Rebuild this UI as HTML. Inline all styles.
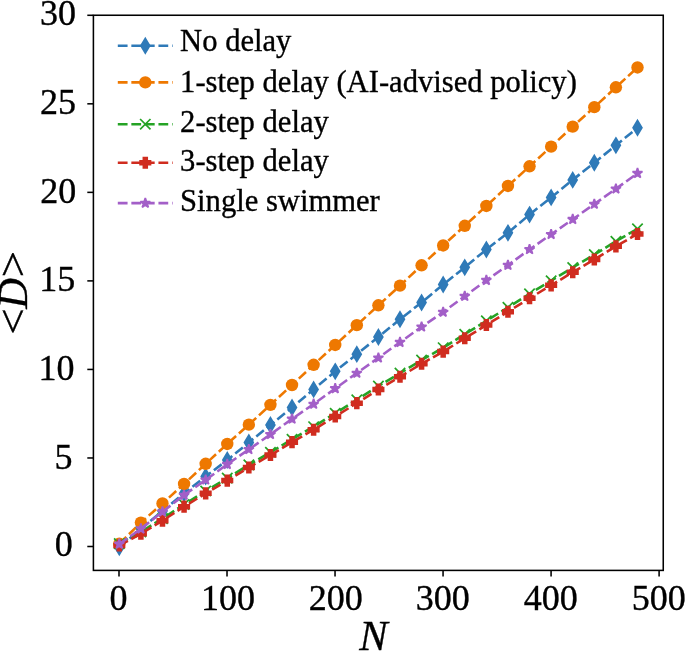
<!DOCTYPE html>
<html><head><meta charset="utf-8"><title>D vs N</title><style>html,body{margin:0;padding:0;background:#fff}body{width:685px;height:651px;overflow:hidden}</style></head><body><svg width="685" height="651" viewBox="0 0 685 651" style="display:block;will-change:transform">
<rect width="685" height="651" fill="#fff"/>
<clipPath id="c"><rect x="93.4" y="15.25" width="569.85" height="555.15"/></clipPath>
<g clip-path="url(#c)">
<polyline points="119.30,547.21 140.89,528.79 162.48,511.08 184.07,493.37 205.67,476.54 227.26,460.07 248.85,442.53 270.44,425.00 292.03,407.47 313.62,389.40 335.22,371.34 356.81,354.16 378.40,336.98 399.99,319.27 421.58,302.44 443.17,284.55 464.76,267.37 486.36,249.48 507.95,232.84 529.54,214.59 551.13,197.41 572.72,179.88 594.31,162.70 615.90,145.34 637.50,127.81" fill="none" stroke="#2f7ab8" stroke-width="2.6" stroke-dasharray="9.77 3.78"/>
<path d="M119.30 539.91L123.70 547.21L119.30 554.51L114.90 547.21Z" fill="#2f7ab8" stroke="#2f7ab8" stroke-width="1.7" stroke-linejoin="miter" stroke-miterlimit="10"/>
<path d="M140.89 521.49L145.29 528.79L140.89 536.09L136.49 528.79Z" fill="#2f7ab8" stroke="#2f7ab8" stroke-width="1.7" stroke-linejoin="miter" stroke-miterlimit="10"/>
<path d="M162.48 503.78L166.88 511.08L162.48 518.38L158.08 511.08Z" fill="#2f7ab8" stroke="#2f7ab8" stroke-width="1.7" stroke-linejoin="miter" stroke-miterlimit="10"/>
<path d="M184.07 486.07L188.47 493.37L184.07 500.67L179.67 493.37Z" fill="#2f7ab8" stroke="#2f7ab8" stroke-width="1.7" stroke-linejoin="miter" stroke-miterlimit="10"/>
<path d="M205.67 469.24L210.07 476.54L205.67 483.84L201.27 476.54Z" fill="#2f7ab8" stroke="#2f7ab8" stroke-width="1.7" stroke-linejoin="miter" stroke-miterlimit="10"/>
<path d="M227.26 452.77L231.66 460.07L227.26 467.37L222.86 460.07Z" fill="#2f7ab8" stroke="#2f7ab8" stroke-width="1.7" stroke-linejoin="miter" stroke-miterlimit="10"/>
<path d="M248.85 435.23L253.25 442.53L248.85 449.83L244.45 442.53Z" fill="#2f7ab8" stroke="#2f7ab8" stroke-width="1.7" stroke-linejoin="miter" stroke-miterlimit="10"/>
<path d="M270.44 417.70L274.84 425.00L270.44 432.30L266.04 425.00Z" fill="#2f7ab8" stroke="#2f7ab8" stroke-width="1.7" stroke-linejoin="miter" stroke-miterlimit="10"/>
<path d="M292.03 400.17L296.43 407.47L292.03 414.77L287.63 407.47Z" fill="#2f7ab8" stroke="#2f7ab8" stroke-width="1.7" stroke-linejoin="miter" stroke-miterlimit="10"/>
<path d="M313.62 382.10L318.02 389.40L313.62 396.70L309.22 389.40Z" fill="#2f7ab8" stroke="#2f7ab8" stroke-width="1.7" stroke-linejoin="miter" stroke-miterlimit="10"/>
<path d="M335.22 364.04L339.62 371.34L335.22 378.64L330.82 371.34Z" fill="#2f7ab8" stroke="#2f7ab8" stroke-width="1.7" stroke-linejoin="miter" stroke-miterlimit="10"/>
<path d="M356.81 346.86L361.21 354.16L356.81 361.46L352.41 354.16Z" fill="#2f7ab8" stroke="#2f7ab8" stroke-width="1.7" stroke-linejoin="miter" stroke-miterlimit="10"/>
<path d="M378.40 329.68L382.80 336.98L378.40 344.28L374.00 336.98Z" fill="#2f7ab8" stroke="#2f7ab8" stroke-width="1.7" stroke-linejoin="miter" stroke-miterlimit="10"/>
<path d="M399.99 311.97L404.39 319.27L399.99 326.57L395.59 319.27Z" fill="#2f7ab8" stroke="#2f7ab8" stroke-width="1.7" stroke-linejoin="miter" stroke-miterlimit="10"/>
<path d="M421.58 295.14L425.98 302.44L421.58 309.74L417.18 302.44Z" fill="#2f7ab8" stroke="#2f7ab8" stroke-width="1.7" stroke-linejoin="miter" stroke-miterlimit="10"/>
<path d="M443.17 277.25L447.57 284.55L443.17 291.85L438.77 284.55Z" fill="#2f7ab8" stroke="#2f7ab8" stroke-width="1.7" stroke-linejoin="miter" stroke-miterlimit="10"/>
<path d="M464.76 260.07L469.16 267.37L464.76 274.67L460.36 267.37Z" fill="#2f7ab8" stroke="#2f7ab8" stroke-width="1.7" stroke-linejoin="miter" stroke-miterlimit="10"/>
<path d="M486.36 242.18L490.76 249.48L486.36 256.78L481.96 249.48Z" fill="#2f7ab8" stroke="#2f7ab8" stroke-width="1.7" stroke-linejoin="miter" stroke-miterlimit="10"/>
<path d="M507.95 225.54L512.35 232.84L507.95 240.14L503.55 232.84Z" fill="#2f7ab8" stroke="#2f7ab8" stroke-width="1.7" stroke-linejoin="miter" stroke-miterlimit="10"/>
<path d="M529.54 207.29L533.94 214.59L529.54 221.89L525.14 214.59Z" fill="#2f7ab8" stroke="#2f7ab8" stroke-width="1.7" stroke-linejoin="miter" stroke-miterlimit="10"/>
<path d="M551.13 190.11L555.53 197.41L551.13 204.71L546.73 197.41Z" fill="#2f7ab8" stroke="#2f7ab8" stroke-width="1.7" stroke-linejoin="miter" stroke-miterlimit="10"/>
<path d="M572.72 172.58L577.12 179.88L572.72 187.18L568.32 179.88Z" fill="#2f7ab8" stroke="#2f7ab8" stroke-width="1.7" stroke-linejoin="miter" stroke-miterlimit="10"/>
<path d="M594.31 155.40L598.71 162.70L594.31 170.00L589.91 162.70Z" fill="#2f7ab8" stroke="#2f7ab8" stroke-width="1.7" stroke-linejoin="miter" stroke-miterlimit="10"/>
<path d="M615.90 138.04L620.30 145.34L615.90 152.64L611.50 145.34Z" fill="#2f7ab8" stroke="#2f7ab8" stroke-width="1.7" stroke-linejoin="miter" stroke-miterlimit="10"/>
<path d="M637.50 120.51L641.90 127.81L637.50 135.11L633.10 127.81Z" fill="#2f7ab8" stroke="#2f7ab8" stroke-width="1.7" stroke-linejoin="miter" stroke-miterlimit="10"/>
<polyline points="119.30,543.67 140.89,522.60 162.48,503.47 184.07,483.99 205.67,463.80 227.26,443.97 248.85,424.67 270.44,404.83 292.03,385.00 313.62,364.81 335.22,344.98 356.81,325.15 378.40,305.31 399.99,285.66 421.58,265.29 443.17,245.46 464.76,225.80 486.36,205.97 507.95,185.96 529.54,166.30 551.13,146.64 572.72,126.63 594.31,107.15 615.90,87.32 637.50,67.49" fill="none" stroke="#ee7800" stroke-width="2.6" stroke-dasharray="9.77 3.78"/>
<circle cx="119.30" cy="543.67" r="6.2" fill="#ee7800"/>
<circle cx="140.89" cy="522.60" r="6.2" fill="#ee7800"/>
<circle cx="162.48" cy="503.47" r="6.2" fill="#ee7800"/>
<circle cx="184.07" cy="483.99" r="6.2" fill="#ee7800"/>
<circle cx="205.67" cy="463.80" r="6.2" fill="#ee7800"/>
<circle cx="227.26" cy="443.97" r="6.2" fill="#ee7800"/>
<circle cx="248.85" cy="424.67" r="6.2" fill="#ee7800"/>
<circle cx="270.44" cy="404.83" r="6.2" fill="#ee7800"/>
<circle cx="292.03" cy="385.00" r="6.2" fill="#ee7800"/>
<circle cx="313.62" cy="364.81" r="6.2" fill="#ee7800"/>
<circle cx="335.22" cy="344.98" r="6.2" fill="#ee7800"/>
<circle cx="356.81" cy="325.15" r="6.2" fill="#ee7800"/>
<circle cx="378.40" cy="305.31" r="6.2" fill="#ee7800"/>
<circle cx="399.99" cy="285.66" r="6.2" fill="#ee7800"/>
<circle cx="421.58" cy="265.29" r="6.2" fill="#ee7800"/>
<circle cx="443.17" cy="245.46" r="6.2" fill="#ee7800"/>
<circle cx="464.76" cy="225.80" r="6.2" fill="#ee7800"/>
<circle cx="486.36" cy="205.97" r="6.2" fill="#ee7800"/>
<circle cx="507.95" cy="185.96" r="6.2" fill="#ee7800"/>
<circle cx="529.54" cy="166.30" r="6.2" fill="#ee7800"/>
<circle cx="551.13" cy="146.64" r="6.2" fill="#ee7800"/>
<circle cx="572.72" cy="126.63" r="6.2" fill="#ee7800"/>
<circle cx="594.31" cy="107.15" r="6.2" fill="#ee7800"/>
<circle cx="615.90" cy="87.32" r="6.2" fill="#ee7800"/>
<circle cx="637.50" cy="67.49" r="6.2" fill="#ee7800"/>
<polyline points="119.30,543.67 140.89,531.83 162.48,518.58 184.07,504.44 205.67,491.01 227.26,478.11 248.85,464.86 270.44,452.31 292.03,439.24 313.62,426.69 335.22,413.26 356.81,399.83 378.40,386.05 399.99,373.15 421.58,360.07 443.17,347.71 464.76,334.28 486.36,320.85 507.95,307.42 529.54,293.81 551.13,280.73 572.72,267.48 594.31,254.58 615.90,241.33 637.50,228.78" fill="none" stroke="#25a325" stroke-width="2.6" stroke-dasharray="9.77 3.78"/>
<path d="M114.10 538.47L124.50 548.87M114.10 548.87L124.50 538.47" stroke="#25a325" stroke-width="1.7" fill="none"/>
<path d="M135.69 526.63L146.09 537.03M135.69 537.03L146.09 526.63" stroke="#25a325" stroke-width="1.7" fill="none"/>
<path d="M157.28 513.38L167.68 523.78M157.28 523.78L167.68 513.38" stroke="#25a325" stroke-width="1.7" fill="none"/>
<path d="M178.87 499.24L189.27 509.64M178.87 509.64L189.27 499.24" stroke="#25a325" stroke-width="1.7" fill="none"/>
<path d="M200.47 485.81L210.87 496.21M200.47 496.21L210.87 485.81" stroke="#25a325" stroke-width="1.7" fill="none"/>
<path d="M222.06 472.91L232.46 483.31M222.06 483.31L232.46 472.91" stroke="#25a325" stroke-width="1.7" fill="none"/>
<path d="M243.65 459.66L254.05 470.06M243.65 470.06L254.05 459.66" stroke="#25a325" stroke-width="1.7" fill="none"/>
<path d="M265.24 447.11L275.64 457.51M265.24 457.51L275.64 447.11" stroke="#25a325" stroke-width="1.7" fill="none"/>
<path d="M286.83 434.04L297.23 444.44M286.83 444.44L297.23 434.04" stroke="#25a325" stroke-width="1.7" fill="none"/>
<path d="M308.42 421.49L318.82 431.89M308.42 431.89L318.82 421.49" stroke="#25a325" stroke-width="1.7" fill="none"/>
<path d="M330.02 408.06L340.42 418.46M330.02 418.46L340.42 408.06" stroke="#25a325" stroke-width="1.7" fill="none"/>
<path d="M351.61 394.63L362.01 405.03M351.61 405.03L362.01 394.63" stroke="#25a325" stroke-width="1.7" fill="none"/>
<path d="M373.20 380.85L383.60 391.25M373.20 391.25L383.60 380.85" stroke="#25a325" stroke-width="1.7" fill="none"/>
<path d="M394.79 367.95L405.19 378.35M394.79 378.35L405.19 367.95" stroke="#25a325" stroke-width="1.7" fill="none"/>
<path d="M416.38 354.87L426.78 365.27M416.38 365.27L426.78 354.87" stroke="#25a325" stroke-width="1.7" fill="none"/>
<path d="M437.97 342.51L448.37 352.91M437.97 352.91L448.37 342.51" stroke="#25a325" stroke-width="1.7" fill="none"/>
<path d="M459.56 329.08L469.96 339.48M459.56 339.48L469.96 329.08" stroke="#25a325" stroke-width="1.7" fill="none"/>
<path d="M481.16 315.65L491.56 326.05M481.16 326.05L491.56 315.65" stroke="#25a325" stroke-width="1.7" fill="none"/>
<path d="M502.75 302.22L513.15 312.62M502.75 312.62L513.15 302.22" stroke="#25a325" stroke-width="1.7" fill="none"/>
<path d="M524.34 288.61L534.74 299.01M524.34 299.01L534.74 288.61" stroke="#25a325" stroke-width="1.7" fill="none"/>
<path d="M545.93 275.53L556.33 285.93M545.93 285.93L556.33 275.53" stroke="#25a325" stroke-width="1.7" fill="none"/>
<path d="M567.52 262.28L577.92 272.68M567.52 272.68L577.92 262.28" stroke="#25a325" stroke-width="1.7" fill="none"/>
<path d="M589.11 249.38L599.51 259.78M589.11 259.78L599.51 249.38" stroke="#25a325" stroke-width="1.7" fill="none"/>
<path d="M610.70 236.13L621.10 246.53M610.70 246.53L621.10 236.13" stroke="#25a325" stroke-width="1.7" fill="none"/>
<path d="M632.30 223.58L642.70 233.98M632.30 233.98L642.70 223.58" stroke="#25a325" stroke-width="1.7" fill="none"/>
<polyline points="119.30,545.44 140.89,533.74 162.48,520.63 184.07,506.63 205.67,493.35 227.26,480.59 248.85,467.48 270.44,455.07 292.03,442.14 313.62,429.74 335.22,416.45 356.81,403.16 378.40,389.52 399.99,376.76 421.58,363.82 443.17,351.60 464.76,338.31 486.36,325.02 507.95,311.73 529.54,298.27 551.13,285.33 572.72,272.22 594.31,259.46 615.90,246.35 637.50,233.95" fill="none" stroke="#d02c1f" stroke-width="2.6" stroke-dasharray="9.77 3.78"/>
<path d="M116.55 539.39L122.05 539.39L122.05 542.69L125.35 542.69L125.35 548.19L122.05 548.19L122.05 551.49L116.55 551.49L116.55 548.19L113.25 548.19L113.25 542.69L116.55 542.69Z" fill="#d02c1f"/>
<path d="M138.14 527.69L143.64 527.69L143.64 530.99L146.94 530.99L146.94 536.49L143.64 536.49L143.64 539.79L138.14 539.79L138.14 536.49L134.84 536.49L134.84 530.99L138.14 530.99Z" fill="#d02c1f"/>
<path d="M159.73 514.58L165.23 514.58L165.23 517.88L168.53 517.88L168.53 523.38L165.23 523.38L165.23 526.68L159.73 526.68L159.73 523.38L156.43 523.38L156.43 517.88L159.73 517.88Z" fill="#d02c1f"/>
<path d="M181.32 500.58L186.82 500.58L186.82 503.88L190.12 503.88L190.12 509.38L186.82 509.38L186.82 512.68L181.32 512.68L181.32 509.38L178.02 509.38L178.02 503.88L181.32 503.88Z" fill="#d02c1f"/>
<path d="M202.92 487.30L208.42 487.30L208.42 490.60L211.72 490.60L211.72 496.10L208.42 496.10L208.42 499.40L202.92 499.40L202.92 496.10L199.62 496.10L199.62 490.60L202.92 490.60Z" fill="#d02c1f"/>
<path d="M224.51 474.54L230.01 474.54L230.01 477.84L233.31 477.84L233.31 483.34L230.01 483.34L230.01 486.64L224.51 486.64L224.51 483.34L221.21 483.34L221.21 477.84L224.51 477.84Z" fill="#d02c1f"/>
<path d="M246.10 461.43L251.60 461.43L251.60 464.73L254.90 464.73L254.90 470.23L251.60 470.23L251.60 473.53L246.10 473.53L246.10 470.23L242.80 470.23L242.80 464.73L246.10 464.73Z" fill="#d02c1f"/>
<path d="M267.69 449.02L273.19 449.02L273.19 452.32L276.49 452.32L276.49 457.82L273.19 457.82L273.19 461.12L267.69 461.12L267.69 457.82L264.39 457.82L264.39 452.32L267.69 452.32Z" fill="#d02c1f"/>
<path d="M289.28 436.09L294.78 436.09L294.78 439.39L298.08 439.39L298.08 444.89L294.78 444.89L294.78 448.19L289.28 448.19L289.28 444.89L285.98 444.89L285.98 439.39L289.28 439.39Z" fill="#d02c1f"/>
<path d="M310.87 423.69L316.37 423.69L316.37 426.99L319.67 426.99L319.67 432.49L316.37 432.49L316.37 435.79L310.87 435.79L310.87 432.49L307.57 432.49L307.57 426.99L310.87 426.99Z" fill="#d02c1f"/>
<path d="M332.47 410.40L337.97 410.40L337.97 413.70L341.27 413.70L341.27 419.20L337.97 419.20L337.97 422.50L332.47 422.50L332.47 419.20L329.17 419.20L329.17 413.70L332.47 413.70Z" fill="#d02c1f"/>
<path d="M354.06 397.11L359.56 397.11L359.56 400.41L362.86 400.41L362.86 405.91L359.56 405.91L359.56 409.21L354.06 409.21L354.06 405.91L350.76 405.91L350.76 400.41L354.06 400.41Z" fill="#d02c1f"/>
<path d="M375.65 383.47L381.15 383.47L381.15 386.77L384.45 386.77L384.45 392.27L381.15 392.27L381.15 395.57L375.65 395.57L375.65 392.27L372.35 392.27L372.35 386.77L375.65 386.77Z" fill="#d02c1f"/>
<path d="M397.24 370.71L402.74 370.71L402.74 374.01L406.04 374.01L406.04 379.51L402.74 379.51L402.74 382.81L397.24 382.81L397.24 379.51L393.94 379.51L393.94 374.01L397.24 374.01Z" fill="#d02c1f"/>
<path d="M418.83 357.77L424.33 357.77L424.33 361.07L427.63 361.07L427.63 366.57L424.33 366.57L424.33 369.87L418.83 369.87L418.83 366.57L415.53 366.57L415.53 361.07L418.83 361.07Z" fill="#d02c1f"/>
<path d="M440.42 345.55L445.92 345.55L445.92 348.85L449.22 348.85L449.22 354.35L445.92 354.35L445.92 357.65L440.42 357.65L440.42 354.35L437.12 354.35L437.12 348.85L440.42 348.85Z" fill="#d02c1f"/>
<path d="M462.01 332.26L467.51 332.26L467.51 335.56L470.81 335.56L470.81 341.06L467.51 341.06L467.51 344.36L462.01 344.36L462.01 341.06L458.71 341.06L458.71 335.56L462.01 335.56Z" fill="#d02c1f"/>
<path d="M483.61 318.97L489.11 318.97L489.11 322.27L492.41 322.27L492.41 327.77L489.11 327.77L489.11 331.07L483.61 331.07L483.61 327.77L480.31 327.77L480.31 322.27L483.61 322.27Z" fill="#d02c1f"/>
<path d="M505.20 305.68L510.70 305.68L510.70 308.98L514.00 308.98L514.00 314.48L510.70 314.48L510.70 317.78L505.20 317.78L505.20 314.48L501.90 314.48L501.90 308.98L505.20 308.98Z" fill="#d02c1f"/>
<path d="M526.79 292.22L532.29 292.22L532.29 295.52L535.59 295.52L535.59 301.02L532.29 301.02L532.29 304.32L526.79 304.32L526.79 301.02L523.49 301.02L523.49 295.52L526.79 295.52Z" fill="#d02c1f"/>
<path d="M548.38 279.28L553.88 279.28L553.88 282.58L557.18 282.58L557.18 288.08L553.88 288.08L553.88 291.38L548.38 291.38L548.38 288.08L545.08 288.08L545.08 282.58L548.38 282.58Z" fill="#d02c1f"/>
<path d="M569.97 266.17L575.47 266.17L575.47 269.47L578.77 269.47L578.77 274.97L575.47 274.97L575.47 278.27L569.97 278.27L569.97 274.97L566.67 274.97L566.67 269.47L569.97 269.47Z" fill="#d02c1f"/>
<path d="M591.56 253.41L597.06 253.41L597.06 256.71L600.36 256.71L600.36 262.21L597.06 262.21L597.06 265.51L591.56 265.51L591.56 262.21L588.26 262.21L588.26 256.71L591.56 256.71Z" fill="#d02c1f"/>
<path d="M613.15 240.30L618.65 240.30L618.65 243.60L621.95 243.60L621.95 249.10L618.65 249.10L618.65 252.40L613.15 252.40L613.15 249.10L609.85 249.10L609.85 243.60L613.15 243.60Z" fill="#d02c1f"/>
<path d="M634.75 227.90L640.25 227.90L640.25 231.20L643.55 231.20L643.55 236.70L640.25 236.70L640.25 240.00L634.75 240.00L634.75 236.70L631.45 236.70L631.45 231.20L634.75 231.20Z" fill="#d02c1f"/>
<polyline points="119.30,544.02 140.89,528.79 162.48,511.79 184.07,495.14 205.67,479.90 227.26,464.31 248.85,449.43 270.44,434.38 292.03,418.97 313.62,404.08 335.22,388.50 356.81,373.09 378.40,357.85 399.99,342.26 421.58,326.85 443.17,312.15 464.76,296.21 486.36,280.27 507.95,265.21 529.54,249.44 551.13,234.39 572.72,219.33 594.31,204.09 615.90,188.86 637.50,173.27" fill="none" stroke="#a35fc8" stroke-width="2.6" stroke-dasharray="9.77 3.78"/>
<path d="M119.30 538.82L120.47 542.42L124.25 542.42L121.19 544.64L122.36 548.23L119.30 546.01L116.24 548.23L117.41 544.64L114.35 542.42L118.13 542.42Z" fill="#a35fc8" stroke="#a35fc8" stroke-width="1.7" stroke-linejoin="bevel"/>
<path d="M140.89 523.59L142.06 527.18L145.84 527.18L142.78 529.40L143.95 533.00L140.89 530.78L137.84 533.00L139.00 529.40L135.95 527.18L139.72 527.18Z" fill="#a35fc8" stroke="#a35fc8" stroke-width="1.7" stroke-linejoin="bevel"/>
<path d="M162.48 506.59L163.65 510.18L167.43 510.18L164.37 512.40L165.54 515.99L162.48 513.77L159.43 515.99L160.59 512.40L157.54 510.18L161.32 510.18Z" fill="#a35fc8" stroke="#a35fc8" stroke-width="1.7" stroke-linejoin="bevel"/>
<path d="M184.07 489.94L185.24 493.53L189.02 493.53L185.96 495.75L187.13 499.34L184.07 497.12L181.02 499.34L182.19 495.75L179.13 493.53L182.91 493.53Z" fill="#a35fc8" stroke="#a35fc8" stroke-width="1.7" stroke-linejoin="bevel"/>
<path d="M205.67 474.70L206.83 478.30L210.61 478.30L207.56 480.52L208.72 484.11L205.67 481.89L202.61 484.11L203.78 480.52L200.72 478.30L204.50 478.30Z" fill="#a35fc8" stroke="#a35fc8" stroke-width="1.7" stroke-linejoin="bevel"/>
<path d="M227.26 459.11L228.42 462.71L232.20 462.71L229.15 464.93L230.31 468.52L227.26 466.30L224.20 468.52L225.37 464.93L222.31 462.71L226.09 462.71Z" fill="#a35fc8" stroke="#a35fc8" stroke-width="1.7" stroke-linejoin="bevel"/>
<path d="M248.85 444.23L250.02 447.83L253.79 447.83L250.74 450.05L251.91 453.64L248.85 451.42L245.79 453.64L246.96 450.05L243.90 447.83L247.68 447.83Z" fill="#a35fc8" stroke="#a35fc8" stroke-width="1.7" stroke-linejoin="bevel"/>
<path d="M270.44 429.18L271.61 432.77L275.39 432.77L272.33 434.99L273.50 438.58L270.44 436.36L267.38 438.58L268.55 434.99L265.50 432.77L269.27 432.77Z" fill="#a35fc8" stroke="#a35fc8" stroke-width="1.7" stroke-linejoin="bevel"/>
<path d="M292.03 413.77L293.20 417.36L296.98 417.36L293.92 419.58L295.09 423.17L292.03 420.95L288.98 423.17L290.14 419.58L287.09 417.36L290.86 417.36Z" fill="#a35fc8" stroke="#a35fc8" stroke-width="1.7" stroke-linejoin="bevel"/>
<path d="M313.62 398.88L314.79 402.48L318.57 402.48L315.51 404.70L316.68 408.29L313.62 406.07L310.57 408.29L311.73 404.70L308.68 402.48L312.46 402.48Z" fill="#a35fc8" stroke="#a35fc8" stroke-width="1.7" stroke-linejoin="bevel"/>
<path d="M335.22 383.30L336.38 386.89L340.16 386.89L337.10 389.11L338.27 392.70L335.22 390.48L332.16 392.70L333.33 389.11L330.27 386.89L334.05 386.89Z" fill="#a35fc8" stroke="#a35fc8" stroke-width="1.7" stroke-linejoin="bevel"/>
<path d="M356.81 367.89L357.97 371.48L361.75 371.48L358.70 373.70L359.86 377.29L356.81 375.07L353.75 377.29L354.92 373.70L351.86 371.48L355.64 371.48Z" fill="#a35fc8" stroke="#a35fc8" stroke-width="1.7" stroke-linejoin="bevel"/>
<path d="M378.40 352.65L379.57 356.24L383.34 356.24L380.29 358.47L381.45 362.06L378.40 359.84L375.34 362.06L376.51 358.47L373.45 356.24L377.23 356.24Z" fill="#a35fc8" stroke="#a35fc8" stroke-width="1.7" stroke-linejoin="bevel"/>
<path d="M399.99 337.06L401.16 340.66L404.93 340.66L401.88 342.88L403.05 346.47L399.99 344.25L396.93 346.47L398.10 342.88L395.04 340.66L398.82 340.66Z" fill="#a35fc8" stroke="#a35fc8" stroke-width="1.7" stroke-linejoin="bevel"/>
<path d="M421.58 321.65L422.75 325.25L426.53 325.25L423.47 327.47L424.64 331.06L421.58 328.84L418.52 331.06L419.69 327.47L416.64 325.25L420.41 325.25Z" fill="#a35fc8" stroke="#a35fc8" stroke-width="1.7" stroke-linejoin="bevel"/>
<path d="M443.17 306.95L444.34 310.54L448.12 310.54L445.06 312.76L446.23 316.36L443.17 314.14L440.12 316.36L441.28 312.76L438.23 310.54L442.01 310.54Z" fill="#a35fc8" stroke="#a35fc8" stroke-width="1.7" stroke-linejoin="bevel"/>
<path d="M464.76 291.01L465.93 294.60L469.71 294.60L466.65 296.82L467.82 300.41L464.76 298.19L461.71 300.41L462.87 296.82L459.82 294.60L463.60 294.60Z" fill="#a35fc8" stroke="#a35fc8" stroke-width="1.7" stroke-linejoin="bevel"/>
<path d="M486.36 275.07L487.52 278.66L491.30 278.66L488.24 280.88L489.41 284.47L486.36 282.25L483.30 284.47L484.47 280.88L481.41 278.66L485.19 278.66Z" fill="#a35fc8" stroke="#a35fc8" stroke-width="1.7" stroke-linejoin="bevel"/>
<path d="M507.95 260.01L509.11 263.60L512.89 263.60L509.84 265.82L511.00 269.41L507.95 267.19L504.89 269.41L506.06 265.82L503.00 263.60L506.78 263.60Z" fill="#a35fc8" stroke="#a35fc8" stroke-width="1.7" stroke-linejoin="bevel"/>
<path d="M529.54 244.24L530.71 247.84L534.48 247.84L531.43 250.06L532.59 253.65L529.54 251.43L526.48 253.65L527.65 250.06L524.59 247.84L528.37 247.84Z" fill="#a35fc8" stroke="#a35fc8" stroke-width="1.7" stroke-linejoin="bevel"/>
<path d="M551.13 229.19L552.30 232.78L556.08 232.78L553.02 235.00L554.19 238.59L551.13 236.37L548.07 238.59L549.24 235.00L546.18 232.78L549.96 232.78Z" fill="#a35fc8" stroke="#a35fc8" stroke-width="1.7" stroke-linejoin="bevel"/>
<path d="M572.72 214.13L573.89 217.72L577.67 217.72L574.61 219.94L575.78 223.54L572.72 221.31L569.67 223.54L570.83 219.94L567.78 217.72L571.55 217.72Z" fill="#a35fc8" stroke="#a35fc8" stroke-width="1.7" stroke-linejoin="bevel"/>
<path d="M594.31 198.89L595.48 202.49L599.26 202.49L596.20 204.71L597.37 208.30L594.31 206.08L591.26 208.30L592.42 204.71L589.37 202.49L593.15 202.49Z" fill="#a35fc8" stroke="#a35fc8" stroke-width="1.7" stroke-linejoin="bevel"/>
<path d="M615.90 183.66L617.07 187.25L620.85 187.25L617.79 189.47L618.96 193.07L615.90 190.85L612.85 193.07L614.02 189.47L610.96 187.25L614.74 187.25Z" fill="#a35fc8" stroke="#a35fc8" stroke-width="1.7" stroke-linejoin="bevel"/>
<path d="M637.50 168.07L638.66 171.66L642.44 171.66L639.39 173.89L640.55 177.48L637.50 175.26L634.44 177.48L635.61 173.89L632.55 171.66L636.33 171.66Z" fill="#a35fc8" stroke="#a35fc8" stroke-width="1.7" stroke-linejoin="bevel"/>
</g>
<rect x="93.4" y="15.25" width="569.85" height="555.15" fill="none" stroke="#000" stroke-width="1.55"/>
<line x1="119.00" y1="570.4" x2="119.00" y2="576.5" stroke="#000" stroke-width="1.55"/>
<text x="118.50" y="610.1" font-family="Liberation Serif, serif" stroke="#000" stroke-width="0.35" font-size="36" text-anchor="middle">0</text>
<line x1="227.02" y1="570.4" x2="227.02" y2="576.5" stroke="#000" stroke-width="1.55"/>
<text x="227.92" y="610.1" font-family="Liberation Serif, serif" stroke="#000" stroke-width="0.35" font-size="36" text-anchor="middle">100</text>
<line x1="335.04" y1="570.4" x2="335.04" y2="576.5" stroke="#000" stroke-width="1.55"/>
<text x="335.64" y="610.1" font-family="Liberation Serif, serif" stroke="#000" stroke-width="0.35" font-size="36" text-anchor="middle">200</text>
<line x1="443.06" y1="570.4" x2="443.06" y2="576.5" stroke="#000" stroke-width="1.55"/>
<text x="442.76" y="610.1" font-family="Liberation Serif, serif" stroke="#000" stroke-width="0.35" font-size="36" text-anchor="middle">300</text>
<line x1="551.08" y1="570.4" x2="551.08" y2="576.5" stroke="#000" stroke-width="1.55"/>
<text x="550.78" y="610.1" font-family="Liberation Serif, serif" stroke="#000" stroke-width="0.35" font-size="36" text-anchor="middle">400</text>
<line x1="659.10" y1="570.4" x2="659.10" y2="576.5" stroke="#000" stroke-width="1.55"/>
<text x="658.80" y="610.1" font-family="Liberation Serif, serif" stroke="#000" stroke-width="0.35" font-size="36" text-anchor="middle">500</text>
<line x1="87.30000000000001" y1="546.50" x2="93.4" y2="546.50" stroke="#000" stroke-width="1.55"/>
<text x="72.7" y="555.9" font-family="Liberation Serif, serif" stroke="#000" stroke-width="0.35" font-size="36" text-anchor="end">0</text>
<line x1="87.30000000000001" y1="457.97" x2="93.4" y2="457.97" stroke="#000" stroke-width="1.55"/>
<text x="72.4" y="469.3" font-family="Liberation Serif, serif" stroke="#000" stroke-width="0.35" font-size="36" text-anchor="end">5</text>
<line x1="87.30000000000001" y1="369.43" x2="93.4" y2="369.43" stroke="#000" stroke-width="1.55"/>
<text x="74.4" y="379.9" font-family="Liberation Serif, serif" stroke="#000" stroke-width="0.35" font-size="36" text-anchor="end">10</text>
<line x1="87.30000000000001" y1="280.89" x2="93.4" y2="280.89" stroke="#000" stroke-width="1.55"/>
<text x="75.3" y="290.9" font-family="Liberation Serif, serif" stroke="#000" stroke-width="0.35" font-size="36" text-anchor="end">15</text>
<line x1="87.30000000000001" y1="192.36" x2="93.4" y2="192.36" stroke="#000" stroke-width="1.55"/>
<text x="76.3" y="202.9" font-family="Liberation Serif, serif" stroke="#000" stroke-width="0.35" font-size="36" text-anchor="end">20</text>
<line x1="87.30000000000001" y1="103.82" x2="93.4" y2="103.82" stroke="#000" stroke-width="1.55"/>
<text x="76.0" y="114.2" font-family="Liberation Serif, serif" stroke="#000" stroke-width="0.35" font-size="36" text-anchor="end">25</text>
<line x1="87.30000000000001" y1="15.29" x2="93.4" y2="15.29" stroke="#000" stroke-width="1.55"/>
<text x="75.9" y="25.0" font-family="Liberation Serif, serif" stroke="#000" stroke-width="0.35" font-size="36" text-anchor="end">30</text>
<text x="373.5" y="650" font-family="Liberation Serif, serif" stroke="#000" stroke-width="0.35" font-size="42.5" font-style="italic" text-anchor="middle">N</text>
<text transform="translate(27.1,321.4) rotate(-90) scale(1.14,1)" font-family="Liberation Serif, serif" stroke="#000" stroke-width="0.35" font-size="41.5" text-anchor="middle">&lt;</text>
<text transform="translate(27.1,293.3) rotate(-90)" font-family="Liberation Serif, serif" stroke="#000" stroke-width="0.35" font-size="42.5" font-style="italic" text-anchor="middle">D</text>
<text transform="translate(27.1,264.2) rotate(-90) scale(1.14,1)" font-family="Liberation Serif, serif" stroke="#000" stroke-width="0.35" font-size="41.5" text-anchor="middle">&gt;</text>
<line x1="117.8" y1="45.7" x2="172.6" y2="45.7" stroke="#2f7ab8" stroke-width="2.6" stroke-dasharray="9.77 3.78"/>
<path d="M145.30 38.40L149.70 45.70L145.30 53.00L140.90 45.70Z" fill="#2f7ab8" stroke="#2f7ab8" stroke-width="1.7" stroke-linejoin="miter" stroke-miterlimit="10"/>
<text x="180.1" y="51.10" font-family="Liberation Serif, serif" stroke="#000" stroke-width="0.35" font-size="30.6">No delay</text>
<line x1="117.8" y1="82.4" x2="172.6" y2="82.4" stroke="#ee7800" stroke-width="2.6" stroke-dasharray="9.77 3.78"/>
<circle cx="145.30" cy="82.40" r="6.2" fill="#ee7800"/>
<text x="180.1" y="91.50" font-family="Liberation Serif, serif" stroke="#000" stroke-width="0.35" font-size="30.6">1-step delay (AI-advised policy)</text>
<line x1="117.8" y1="124.2" x2="172.6" y2="124.2" stroke="#25a325" stroke-width="2.6" stroke-dasharray="9.77 3.78"/>
<path d="M140.10 119.00L150.50 129.40M140.10 129.40L150.50 119.00" stroke="#25a325" stroke-width="1.7" fill="none"/>
<text x="180.1" y="131.60" font-family="Liberation Serif, serif" stroke="#000" stroke-width="0.35" font-size="30.6">2-step delay</text>
<line x1="117.8" y1="162.8" x2="172.6" y2="162.8" stroke="#d02c1f" stroke-width="2.6" stroke-dasharray="9.77 3.78"/>
<path d="M142.55 156.75L148.05 156.75L148.05 160.05L151.35 160.05L151.35 165.55L148.05 165.55L148.05 168.85L142.55 168.85L142.55 165.55L139.25 165.55L139.25 160.05L142.55 160.05Z" fill="#d02c1f"/>
<text x="180.1" y="170.50" font-family="Liberation Serif, serif" stroke="#000" stroke-width="0.35" font-size="30.6">3-step delay</text>
<line x1="117.8" y1="203.1" x2="172.6" y2="203.1" stroke="#a35fc8" stroke-width="2.6" stroke-dasharray="9.77 3.78"/>
<path d="M145.30 197.90L146.47 201.49L150.25 201.49L147.19 203.71L148.36 207.31L145.30 205.09L142.24 207.31L143.41 203.71L140.35 201.49L144.13 201.49Z" fill="#a35fc8" stroke="#a35fc8" stroke-width="1.7" stroke-linejoin="bevel"/>
<text x="180.1" y="211.30" font-family="Liberation Serif, serif" stroke="#000" stroke-width="0.35" font-size="30.6">Single swimmer</text>
</svg></body></html>
